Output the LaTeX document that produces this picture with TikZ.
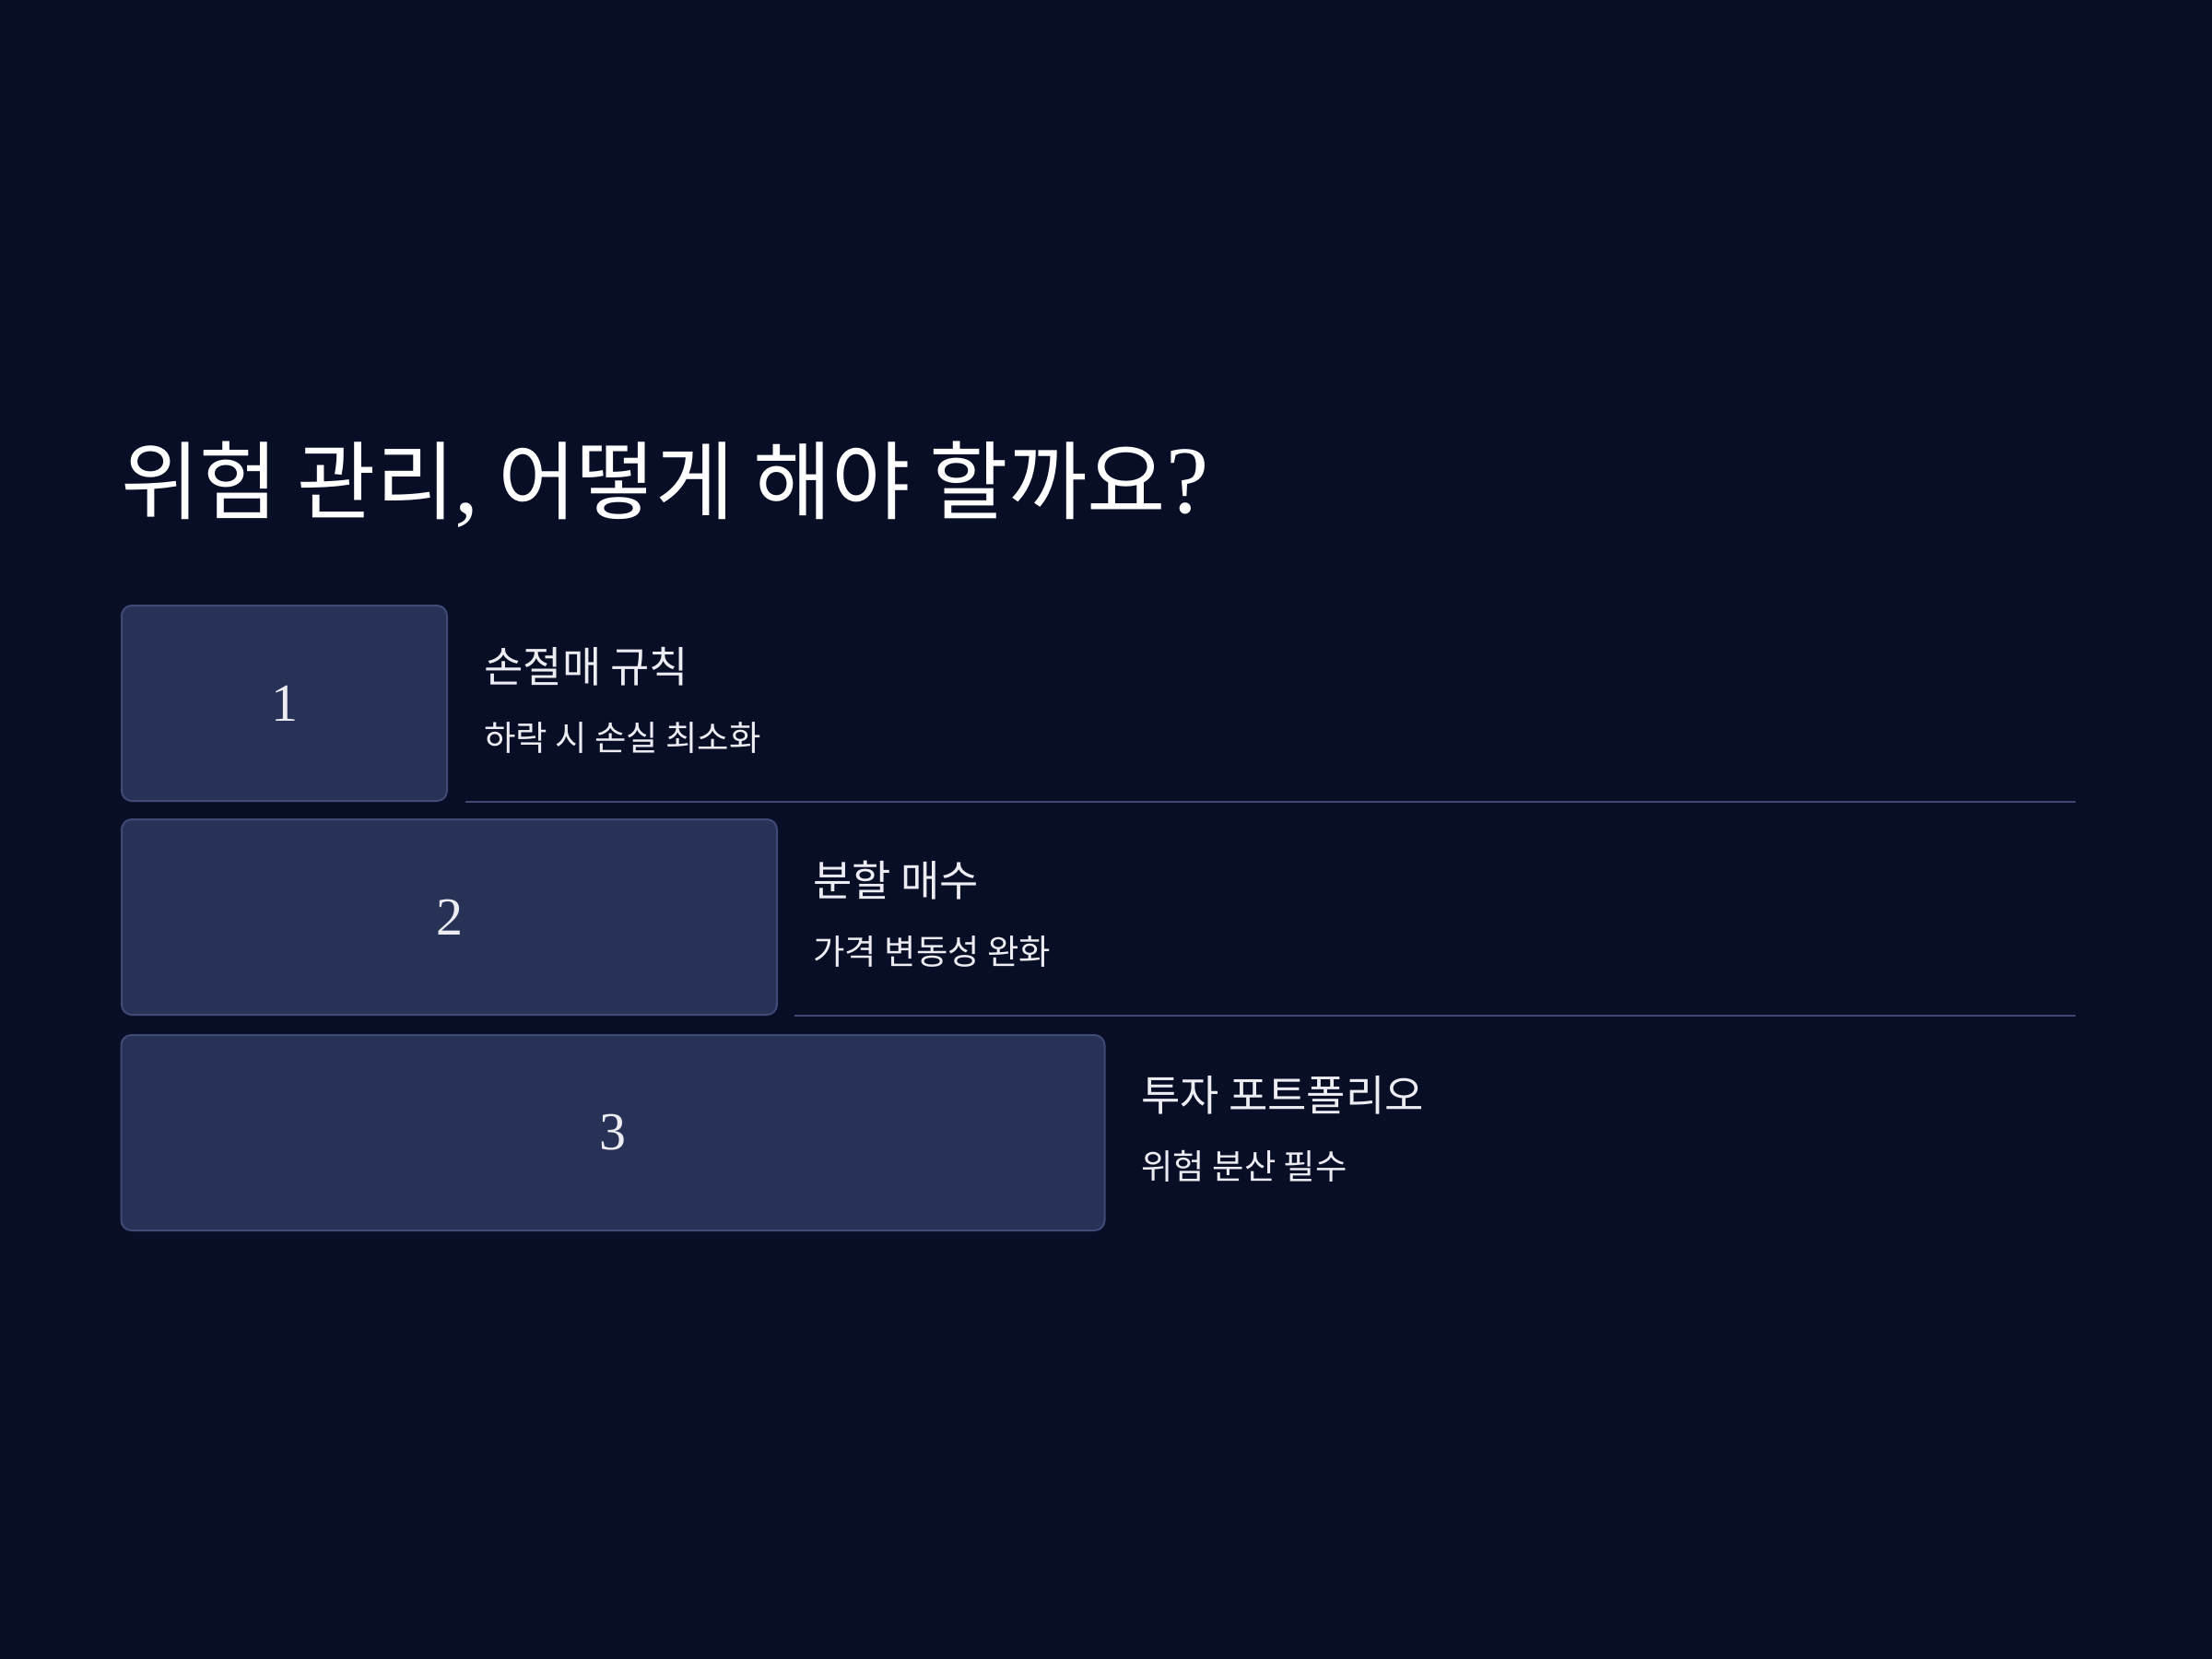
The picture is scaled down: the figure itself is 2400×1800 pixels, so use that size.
\documentclass[tikz,border=0pt]{standalone}
\usepackage{fontspec}
\newfontfamily\cjk{Noto Sans CJK KR}
\newfontfamily\serifnum{Liberation Serif}
\definecolor{bg}{HTML}{090E27}
\definecolor{boxfill}{HTML}{283256}
\definecolor{boxline}{HTML}{3F4A76}
\definecolor{sepline}{HTML}{3E4872}
\definecolor{txt}{HTML}{ECECF2}
\tikzset{
  numbox/.style={draw=boxline, line width=1pt, fill=boxfill, rounded corners=5.5pt,
    minimum height=106pt, inner sep=0pt, text=txt, font=\serifnum\fontsize{29}{31}\selectfont},
  headtxt/.style={anchor=base west, inner sep=0pt, text=txt, font=\cjk\fontsize{23}{26}\selectfont},
  subtxt/.style={anchor=base west, inner sep=0pt, text=txt, font=\cjk\fontsize{18.7}{21}\selectfont},
  titletxt/.style={anchor=base west, inner sep=0pt, text=white, font=\cjk\fontsize{46.4}{50}\selectfont},
  sep/.style={draw=sepline, line width=1pt}
}
\begin{document}
\begin{tikzpicture}[x=0.5pt,y=-0.5pt]
\fill[bg] (0,0) rectangle (2400,1800);
\useasboundingbox (0,0) rectangle (2400,1800);

\node[titletxt] (title) at (131,556) {위험 관리{\serifnum\fontsize{52}{54}\selectfont,} 어떻게 해야 할까요{\serifnum\fontsize{52}{54}\selectfont ?}};

\node[numbox, minimum width=176.5pt] (b1) at (308.5,763) {1};
\node[numbox, minimum width=355.5pt] (b2) at (487.5,995) {2};
\node[numbox, minimum width=533.5pt] (b3) at (665,1229) {3};

\node[headtxt] (h1) at (525,740) {손절매 규칙};
\node[subtxt] (s1) at (525,814) {하락 시 손실 최소화};
\node[headtxt] (h2) at (882,972) {분할 매수};
\node[subtxt] (s2) at (882,1046) {가격 변동성 완화};
\node[headtxt] (h3) at (1238,1205) {투자 포트폴리오};
\node[subtxt] (s3) at (1238,1279) {위험 분산 필수};

\coordinate (l1a) at (505,869.5);
\coordinate (l1b) at (2252,869.5);
\coordinate (l2a) at (862,1101.5);
\coordinate (l2b) at (2252,1101.5);
\draw[sep] (l1a) -- (l1b);
\draw[sep] (l2a) -- (l2b);
\end{tikzpicture}
\end{document}
